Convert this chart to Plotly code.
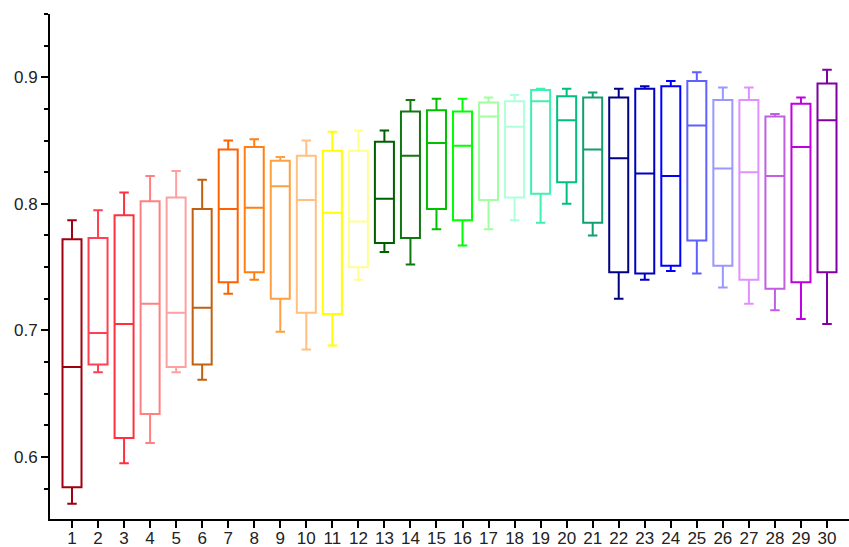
import plotly.graph_objects as go

categories = list(range(1, 31))
upper = [0.787, 0.795, 0.809, 0.822, 0.826, 0.819, 0.850, 0.851, 0.837, 0.850,
         0.857, 0.858, 0.858, 0.882, 0.883, 0.883, 0.884, 0.886, 0.891, 0.891,
         0.888, 0.891, 0.893, 0.897, 0.904, 0.892, 0.892, 0.871, 0.884, 0.906]
q3 = [0.772, 0.773, 0.791, 0.802, 0.805, 0.796, 0.843, 0.845, 0.834, 0.838,
      0.842, 0.842, 0.849, 0.873, 0.874, 0.873, 0.880, 0.881, 0.890, 0.885,
      0.884, 0.884, 0.891, 0.893, 0.897, 0.882, 0.882, 0.869, 0.879, 0.895]
median = [0.671, 0.698, 0.705, 0.721, 0.714, 0.718, 0.796, 0.797, 0.814, 0.803,
          0.793, 0.786, 0.804, 0.838, 0.848, 0.846, 0.869, 0.861, 0.881, 0.866,
          0.843, 0.836, 0.824, 0.822, 0.862, 0.828, 0.825, 0.822, 0.845, 0.866]
q1 = [0.576, 0.673, 0.615, 0.634, 0.671, 0.673, 0.738, 0.746, 0.725, 0.714,
      0.713, 0.750, 0.769, 0.773, 0.796, 0.787, 0.803, 0.805, 0.808, 0.817,
      0.785, 0.746, 0.745, 0.751, 0.771, 0.751, 0.740, 0.733, 0.738, 0.746]
lower = [0.563, 0.667, 0.595, 0.611, 0.667, 0.661, 0.729, 0.740, 0.699, 0.685,
         0.688, 0.740, 0.762, 0.752, 0.780, 0.767, 0.780, 0.787, 0.785, 0.800,
         0.775, 0.725, 0.740, 0.747, 0.745, 0.734, 0.721, 0.716, 0.709, 0.705]
colors = ["#a0000f", "#ff4050", "#ff3040", "#ff8080", "#ffa0a0", "#c06010",
          "#ff6000", "#ff8010", "#ffa040", "#ffc080", "#ffff00", "#ffff90",
          "#006000", "#107810", "#00c000", "#00ff00", "#a0ffa0", "#b0ffdc",
          "#40f0b0", "#00c080", "#10a070", "#000080", "#0000c0", "#0000ff",
          "#6060ff", "#9898ff", "#e090ff", "#c060e0", "#c000e0", "#8000a0"]

fig = go.Figure()
for i, c in enumerate(categories):
    fig.add_trace(go.Box(
        x=[c], q1=[q1[i]], median=[median[i]], q3=[q3[i]],
        lowerfence=[lower[i]], upperfence=[upper[i]],
        width=0.73, whiskerwidth=0.5,
        line=dict(color=colors[i], width=2),
        fillcolor="rgba(255,255,255,0)",
        boxpoints=False, showlegend=False, hoverinfo="skip",
    ))

fig.update_layout(
    width=849, height=547,
    margin=dict(l=50, r=0, t=14, b=28, autoexpand=False),
    paper_bgcolor="white", plot_bgcolor="white",
    font=dict(family="Liberation Sans, Arial, sans-serif", size=17, color="#222"),
    showlegend=False,
)
fig.update_xaxes(
    range=[0.155, 30.845], tickmode="array", tickvals=categories,
    ticktext=[str(c) for c in categories], automargin=False,
    showgrid=False, zeroline=False, showline=True, linecolor="black", linewidth=2,
    ticks="outside", ticklen=7, tickwidth=2, tickcolor="black",
    ticklabelstandoff=-4,
)
fig.update_yaxes(
    range=[0.551, 0.95], tickvals=[0.6, 0.7, 0.8, 0.9], automargin=False,
    showgrid=False, zeroline=False, showline=True, linecolor="black", linewidth=2,
    ticks="outside", ticklen=7, tickwidth=2, tickcolor="black",
    minor=dict(dtick=0.025, tick0=0.55, ticks="outside", ticklen=4, tickwidth=2,
               tickcolor="black", showgrid=False),
)
fig.write_html("out.html", config={"displayModeBar": False},
               post_script="document.body.style.margin='0';document.body.style.overflow='hidden';")
